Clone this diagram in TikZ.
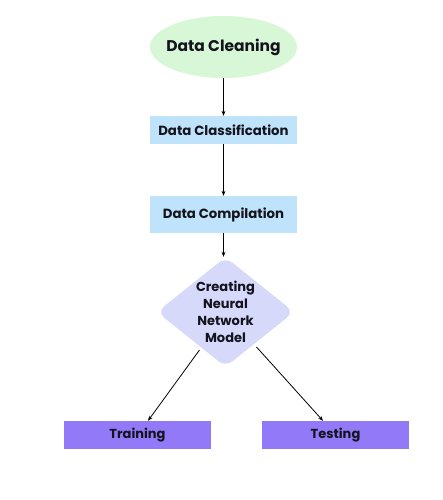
\documentclass[tikz,border=0pt]{standalone}
\usepackage{fontspec}
\setmainfont{Poppins}
\usetikzlibrary{shapes.geometric,arrows.meta,calc}
\definecolor{cgreen}{RGB}{216,247,214}
\definecolor{cblue}{RGB}{191,227,250}
\definecolor{clav}{RGB}{214,217,250}
\definecolor{cpurple}{RGB}{145,121,247}
\definecolor{ctext}{RGB}{20,20,30}
\begin{document}
\begin{tikzpicture}[x=1pt,y=-1pt,
  every node/.style={text=ctext,font=\bfseries},
  box/.style={draw=none,fill=cblue,minimum width=147pt,minimum height=28pt,inner sep=0pt,font=\bfseries\fontsize{13.3}{15}\selectfont},
  pbox/.style={draw=none,fill=cpurple,minimum width=147pt,minimum height=28pt,inner sep=0pt,font=\bfseries\fontsize{13}{15}\selectfont},
  arr/.style={-{Stealth[length=5pt,width=4pt]},line width=0.8pt,black}]
\useasboundingbox (0,0) rectangle (442,500);
\fill[white] (0,0) rectangle (442,500);
\node[ellipse,fill=cgreen,minimum width=147pt,minimum height=62pt,inner xsep=-15pt,inner ysep=0pt,font=\bfseries\fontsize{15.5}{17}\selectfont] (clean) at (223.5,47) {Data Cleaning};
\node[box] (class) at (223.5,130) {Data Classification};
\node[box,minimum height=37pt] (comp) at (223.5,214.5) {Data Compilation};
\node[diamond,fill=clav,minimum width=137pt,minimum height=110pt,inner sep=0pt,rounded corners=9pt] (dia) at (225.5,312) {};
\node[align=center,font=\bfseries\fontsize{13}{17}\selectfont] (diatext) at (dia.center) {Creating\\Neural\\Network\\Model};
\node[pbox] (train) at (137.5,435) {Training};
\node[pbox] (test) at (335.5,435) {Testing};
\draw[arr] (clean.south -| class.north) -- (class.north);
\draw[arr] (class.south) -- (comp.north);
\draw[arr] (comp.south) -- (comp.south |- dia.north);
\draw[arr] ($(dia.center)+(-26,38)$) -- ($(train.north)+(10.5,0)$);
\draw[arr] ($(dia.center)+(31,35)$) -- ($(test.north)+(-12.5,0)$);
\end{tikzpicture}
\end{document}
